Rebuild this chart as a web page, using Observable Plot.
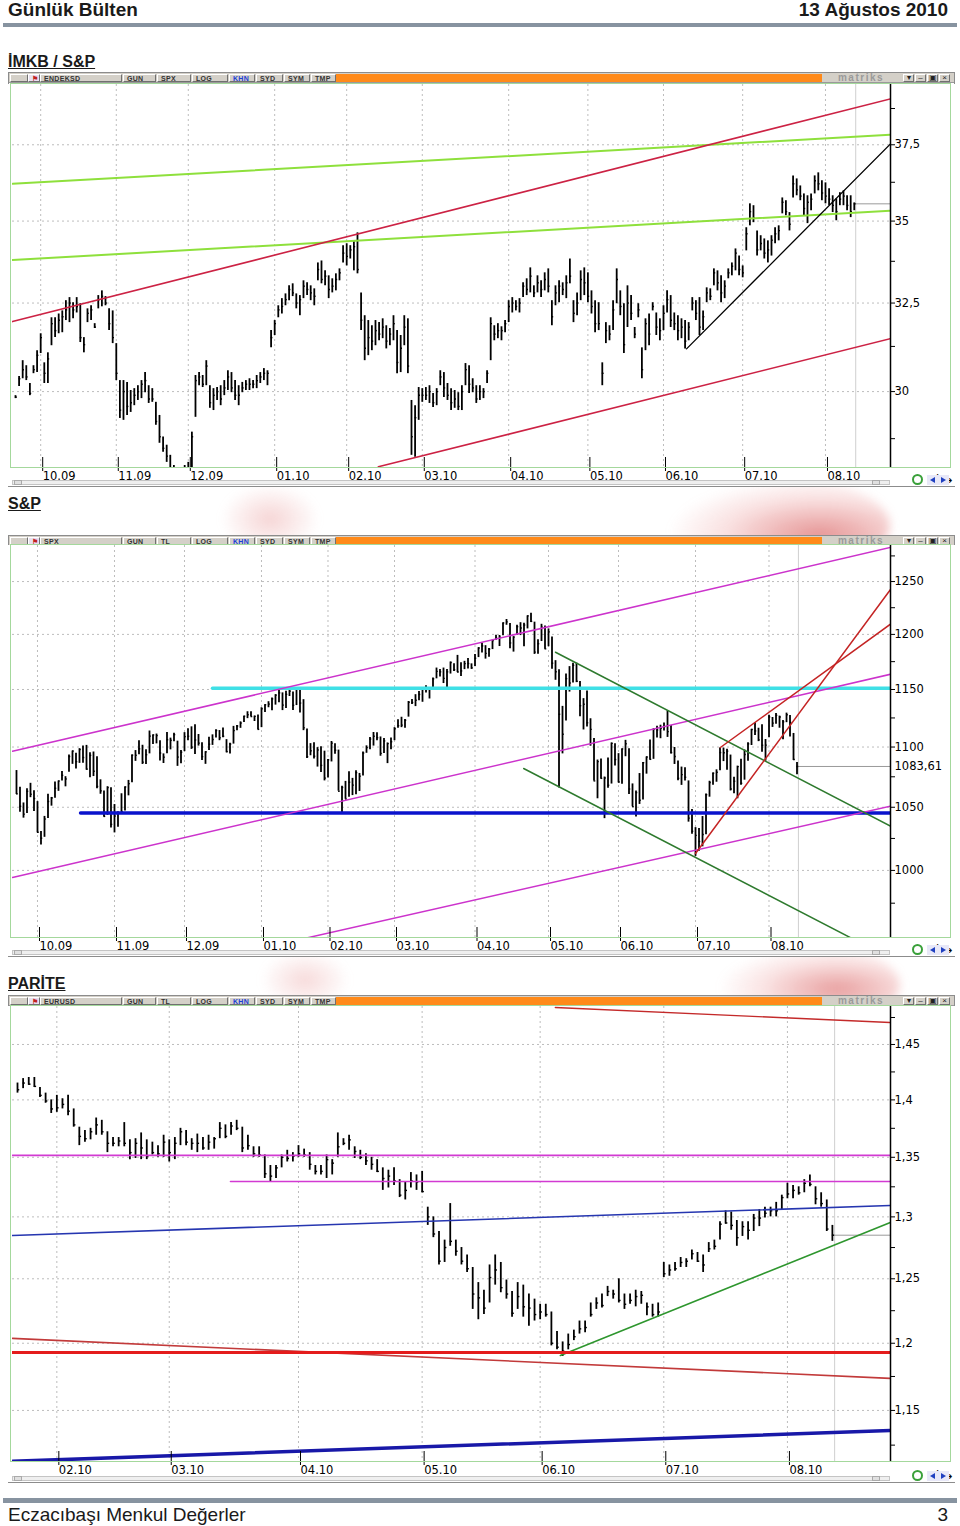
<!DOCTYPE html>
<html><head><meta charset="utf-8">
<script src="https://cdn.jsdelivr.net/npm/d3@7"></script>
<script src="https://cdn.jsdelivr.net/npm/@observablehq/plot@0.6"></script>
<style>
body{margin:0;background:#fff;font-family:"Liberation Sans",Arial,sans-serif;}
#page{position:relative;width:960px;height:1526px;overflow:hidden;background:#fff;}
.a{position:absolute;box-sizing:border-box;}
</style></head>
<body><div id="page"></div>
<script>
// ---------------- DATA ----------------
// Chart 1: IMKB / S&P ratio (daily bars, Sep 2009 - Aug 2010)
const monthLabels1 = ["10.09","11.09","12.09","01.10","02.10","03.10","04.10","05.10","06.10","07.10","08.10"];
const monthIdx1 = [7,28,48,72,92,113,137,159,180,202,225];
const hi1 = [29.89,30.41,30.85,30.71,30.22,30.71,31.13,31.61,30.79,31.07,
32.07,32.07,32.18,32.27,32.57,32.66,32.51,32.66,32.48,31.50,
32.33,32.42,31.90,32.72,32.86,32.69,32.33,32.27,31.33,30.30,
30.30,30.25,30.03,30.08,30.16,30.30,30.52,30.16,30.08,29.71,
29.36,28.79,28.58,28.32,28.06,27.94,27.94,28.06,28.14,28.92,
30.44,30.52,30.44,30.85,30.16,30.08,30.11,30.16,30.30,30.57,
30.52,30.30,30.16,30.25,30.30,30.35,30.30,30.44,30.52,30.63,
30.57,31.70,31.99,32.42,32.63,32.77,33.01,33.07,32.77,32.72,
33.16,33.10,33.01,32.92,33.70,33.76,33.46,33.31,33.22,33.37,
33.52,34.23,34.29,34.23,34.38,34.63,32.80,32.13,31.99,31.84,
31.99,31.93,32.04,31.84,31.76,32.13,31.70,31.56,32.13,32.04,
29.76,29.62,30.11,30.08,30.11,30.16,29.95,30.08,30.57,30.52,
30.22,30.08,30.03,29.97,30.16,30.77,30.71,30.35,30.16,30.16,
30.08,30.57,32.07,31.84,31.90,31.81,31.99,32.57,32.66,32.57,
32.63,33.10,33.22,33.55,33.01,33.31,33.16,33.40,33.52,32.57,
33.01,33.16,33.10,33.31,33.82,32.57,32.80,33.46,33.55,33.40,
32.86,32.57,32.51,30.79,31.93,31.84,32.57,33.52,32.86,32.48,
33.01,32.72,31.79,32.48,31.21,32.04,32.18,32.51,32.21,32.04,
32.42,32.86,32.72,32.21,32.13,32.04,31.99,31.93,32.66,32.57,
32.66,32.27,32.95,32.92,33.52,33.46,33.31,33.16,33.52,33.70,
34.13,33.91,33.61,34.79,35.55,35.49,34.69,34.54,34.44,34.38,
34.54,34.79,34.85,35.74,35.65,35.27,36.46,36.36,36.13,35.87,
35.81,35.87,36.46,36.56,36.30,36.23,36.04,35.81,35.71,35.91,
35.97,35.81,35.81,35.58];
const lo1 = [29.81,30.14,30.35,30.30,29.89,30.49,30.52,31.05,30.22,30.22,
31.27,31.50,31.61,31.64,31.99,31.93,32.04,32.21,31.36,31.07,
31.93,31.99,31.76,32.33,32.39,32.42,31.70,31.33,30.30,29.28,
29.23,29.36,29.44,29.62,29.76,29.81,29.97,29.68,29.71,29.10,
28.63,28.40,28.14,27.94,27.56,27.44,27.56,27.69,27.74,27.94,
29.31,30.16,30.11,30.16,29.55,29.49,29.76,29.62,29.89,30.03,
29.97,29.76,29.62,29.97,30.03,30.03,30.08,30.08,30.22,30.30,
30.16,31.21,31.56,32.07,32.18,32.42,32.57,32.69,32.33,32.13,
32.63,32.72,32.57,32.42,33.16,33.07,33.01,32.63,32.80,32.86,
33.16,33.70,33.61,33.82,33.46,33.37,31.70,30.85,30.99,31.13,
31.27,31.41,31.47,31.18,31.27,31.41,30.49,30.52,31.27,30.49,
28.32,28.27,29.23,29.71,29.76,29.68,29.57,29.62,30.16,29.84,
29.76,29.49,29.55,29.49,29.49,30.16,29.95,29.97,29.68,29.76,
29.81,30.22,30.85,31.41,31.47,31.41,31.64,31.93,32.21,32.27,
32.21,32.66,32.72,32.80,32.66,32.80,32.66,32.86,32.80,31.84,
32.42,32.51,32.72,32.63,33.07,31.93,32.13,32.57,32.72,32.51,
32.18,31.64,31.70,30.16,31.33,31.41,31.70,32.48,32.13,31.05,
31.79,31.99,31.47,32.07,30.35,31.13,31.27,32.27,31.56,31.41,
31.70,32.21,31.79,31.70,31.41,31.47,31.18,31.41,32.27,31.99,
31.56,31.70,32.51,32.57,33.01,32.86,32.51,32.63,33.22,33.31,
33.46,33.31,33.25,34.07,34.85,34.95,33.91,34.07,33.82,33.70,
33.91,34.29,34.38,35.23,35.17,34.69,35.74,35.81,35.65,35.17,
34.92,35.33,35.87,35.97,35.65,35.55,35.49,35.27,35.01,35.49,
35.49,35.33,35.11,35.33];
const cl1 = [29.85,30.35,30.6,30.4,29.95,30.6,31.0,31.5,30.5,30.9,
31.9,31.7,32.0,32.1,32.3,32.5,32.3,32.4,31.5,31.3,
32.2,32.3,31.8,32.6,32.7,32.5,31.9,31.5,30.5,29.5,
30.0,29.6,29.7,29.9,30.0,30.2,30.3,29.8,29.8,29.2,
28.8,28.5,28.3,28.0,27.7,27.6,27.8,27.9,28.0,28.8,
30.3,30.4,30.2,30.7,29.7,29.9,30.0,29.8,30.1,30.4,
30.1,29.9,29.9,30.1,30.2,30.2,30.2,30.3,30.4,30.5,
30.5,31.5,31.9,32.3,32.4,32.6,32.9,32.8,32.5,32.6,
33.0,32.9,32.8,32.7,33.5,33.2,33.3,32.9,33.0,33.2,
33.4,34.0,33.9,34.1,34.2,33.5,32.0,31.2,31.5,31.4,
31.7,31.6,31.8,31.4,31.6,31.9,30.8,31.2,31.8,30.7,
28.8,29.3,29.9,29.9,29.9,30.0,29.7,30.0,30.4,30.1,
29.9,29.7,29.8,29.6,30.0,30.6,30.2,30.1,29.8,30.0,
30.0,30.5,31.9,31.6,31.7,31.7,31.9,32.4,32.5,32.4,
32.5,33.0,32.9,33.3,32.8,33.1,32.9,33.2,33.0,32.1,
32.8,33.0,32.9,33.1,33.3,32.2,32.5,33.2,33.1,32.7,
32.4,31.9,31.9,30.5,31.7,31.6,32.3,33.2,32.4,31.3,
32.5,32.2,31.6,32.3,30.6,31.9,31.6,32.4,31.8,31.7,
32.2,32.6,32.0,31.9,31.7,31.8,31.4,31.8,32.5,32.2,
31.8,32.1,32.8,32.7,33.4,33.1,32.8,33.0,33.4,33.6,
34.0,33.5,33.4,34.6,35.3,35.1,34.1,34.3,34.0,34.1,
34.4,34.6,34.7,35.6,35.3,34.9,36.2,36.0,35.8,35.4,
35.6,35.7,36.3,36.2,35.9,35.8,35.7,35.5,35.3,35.7,
35.8,35.5,35.3,35.55];
const yTicks1 = [30, 32.5, 35, 37.5];
const yTickLabels1 = ["30","32,5","35","37,5"];
const yMinor1 = [28.75, 31.25, 33.75, 36.25, 38.75];
// trend lines: [bar index, value] end points
const t1RedUpper = [[-0.83, 31.96], [243.06, 39.09]];
const t1RedLower = [[100.8, 28.03], [243.06, 31.47]];
const t1GreenUpper = [[-0.83, 36.20], [243.06, 37.84]];
const t1GreenLower = [[-0.83, 33.79], [243.06, 35.33]];
const t1Black = [[186.4, 31.18], [243.06, 37.53]];

// Chart 2: S&P 500 (daily bars, 23 Sep 2009 - 12 Aug 2010)
const monthLabels2 = ["10.09","11.09","12.09","01.10","02.10","03.10","04.10","05.10","06.10","07.10","08.10"];
const monthIdx2 = [6,28,48,70,89,108,131,152,172,194,215];
const cl2 = [1060.9,1050.8,1044.4,1063.0,1060.6,1057.1,1029.9,1025.2,1040.5,1054.7,
1057.6,1065.5,1071.5,1076.2,1073.2,1092.0,1096.6,1087.7,1097.9,1091.1,
1081.4,1092.9,1079.6,1067.0,1063.4,1042.6,1066.1,1036.2,1042.9,1045.4,
1046.5,1066.6,1069.3,1093.1,1093.0,1098.5,1087.2,1093.5,1109.3,1110.3,
1109.8,1094.9,1091.4,1106.2,1105.7,1110.6,1091.5,1095.6,1108.9,1109.2,
1099.9,1106.0,1103.3,1091.9,1095.9,1102.4,1106.4,1114.1,1107.9,1109.2,
1096.1,1102.5,1114.1,1118.0,1120.6,1126.5,1127.8,1126.2,1126.4,1115.1,
1133.0,1136.5,1137.1,1141.7,1145.0,1147.0,1136.2,1145.7,1148.5,1136.0,
1150.2,1138.0,1116.5,1091.8,1096.8,1092.2,1097.5,1084.5,1073.9,1089.2,
1103.3,1097.3,1063.1,1066.2,1056.7,1070.5,1068.1,1078.5,1075.5,1094.9,
1099.5,1106.8,1109.2,1108.0,1094.6,1105.2,1102.9,1104.5,1115.7,1118.3,
1118.8,1123.0,1138.7,1138.5,1140.5,1145.6,1150.2,1150.0,1150.5,1159.5,
1166.2,1165.8,1159.9,1165.8,1174.2,1167.7,1165.7,1166.6,1173.2,1173.3,
1169.4,1178.1,1187.4,1189.4,1182.5,1186.4,1194.4,1196.5,1197.3,1210.7,
1211.7,1192.1,1197.5,1207.2,1205.9,1208.7,1217.3,1212.1,1183.7,1191.4,
1206.8,1186.7,1202.3,1173.6,1165.9,1128.2,1110.9,1159.7,1155.8,1171.7,
1157.4,1135.7,1136.9,1120.8,1115.1,1071.6,1087.7,1073.7,1074.0,1068.0,
1103.1,1089.4,1070.7,1098.4,1102.8,1064.9,1050.5,1062.0,1055.7,1086.8,
1091.6,1089.6,1115.2,1114.6,1116.0,1117.5,1113.2,1095.3,1092.0,1073.7,
1076.8,1074.6,1041.2,1030.7,1027.4,1022.6,1028.1,1060.3,1070.3,1078.0,
1078.8,1095.3,1095.2,1096.5,1064.9,1071.3,1083.5,1069.6,1093.7,1102.7,
1115.0,1113.8,1106.1,1101.5,1101.6,1125.9,1120.5,1127.2,1125.8,1121.6,
1127.8,1121.1,1089.5,1083.61];
const hi2 = [1080.2,1066.3,1053.5,1065.1,1069.6,1063.4,1054.6,1030.6,1042.6,1060.6,
1058.0,1070.7,1071.5,1079.5,1075.1,1093.2,1096.6,1094.7,1098.6,1100.8,
1101.4,1095.2,1095.8,1091.8,1072.5,1063.3,1066.8,1066.0,1052.2,1046.4,
1061.0,1066.6,1072.0,1093.2,1097.0,1105.4,1101.5,1097.7,1113.7,1110.3,
1111.1,1105.4,1094.2,1112.4,1107.6,1111.8,1105.0,1097.1,1112.3,1115.6,
1117.3,1119.1,1110.7,1103.6,1096.0,1108.4,1110.4,1114.8,1114.1,1116.2,
1106.3,1103.3,1117.7,1118.5,1121.6,1126.5,1130.4,1130.4,1126.6,1127.6,
1133.9,1136.6,1139.2,1142.5,1145.4,1149.7,1147.0,1148.4,1150.4,1147.8,
1150.5,1150.4,1141.0,1115.5,1102.9,1103.7,1099.5,1100.2,1096.5,1089.4,
1104.7,1102.7,1097.4,1067.1,1071.2,1079.3,1073.7,1080.0,1077.8,1095.7,
1101.0,1108.2,1112.4,1112.3,1108.6,1107.3,1103.5,1107.8,1116.6,1123.5,
1125.6,1123.7,1139.4,1141.1,1145.4,1148.3,1150.2,1153.4,1150.5,1160.3,
1169.2,1167.8,1169.2,1167.8,1174.7,1173.0,1180.7,1173.9,1175.3,1177.8,
1173.0,1181.4,1187.7,1191.8,1189.6,1187.0,1194.7,1199.2,1199.0,1210.7,
1213.9,1210.2,1197.9,1208.6,1210.9,1210.4,1217.3,1219.8,1211.4,1195.1,
1209.4,1207.9,1205.1,1197.5,1175.9,1167.6,1135.1,1163.8,1170.5,1173.6,
1173.6,1157.2,1141.9,1148.7,1124.3,1107.3,1089.0,1089.9,1074.8,1090.8,
1103.5,1102.9,1094.4,1098.4,1105.7,1098.6,1069.1,1063.2,1077.7,1087.0,
1091.6,1105.9,1115.6,1117.7,1118.7,1120.7,1131.2,1118.5,1099.6,1088.2,
1083.1,1082.6,1071.6,1048.1,1033.6,1032.9,1042.5,1060.9,1071.3,1078.2,
1080.8,1099.1,1099.1,1098.1,1093.2,1074.7,1083.9,1089.7,1097.5,1103.7,
1115.1,1120.9,1116.1,1119.1,1106.4,1127.3,1125.4,1128.8,1126.6,1122.8,
1129.2,1127.2,1111.6,1086.9];
const lo2 = [1060.4,1045.9,1041.2,1044.9,1057.8,1046.5,1029.4,1019.9,1025.9,1040.9,
1050.9,1057.4,1063.0,1071.6,1066.7,1078.7,1085.4,1081.5,1086.2,1086.3,
1080.5,1074.3,1075.2,1065.2,1060.6,1042.2,1043.4,1033.4,1029.4,1033.9,
1045.2,1047.0,1059.3,1070.0,1087.9,1093.5,1085.3,1085.3,1094.2,1102.2,
1102.7,1088.3,1086.1,1094.4,1097.6,1104.6,1083.7,1085.9,1096.1,1105.4,
1098.0,1093.6,1100.8,1088.6,1085.4,1097.0,1101.4,1107.8,1105.4,1107.9,
1095.1,1094.1,1102.5,1114.0,1116.0,1121.1,1124.4,1126.1,1121.9,1114.8,
1116.6,1129.7,1133.9,1131.3,1136.2,1138.3,1131.4,1133.2,1143.8,1131.4,
1135.8,1129.3,1114.0,1090.2,1092.6,1089.9,1083.1,1078.5,1071.6,1073.9,
1087.4,1093.9,1063.1,1044.5,1056.5,1058.1,1059.5,1060.1,1062.9,1075.7,
1094.7,1097.7,1100.8,1105.4,1092.2,1094.6,1086.0,1097.6,1105.4,1116.0,
1116.6,1116.1,1125.7,1136.8,1134.9,1140.1,1138.7,1146.9,1141.6,1150.3,
1159.5,1161.2,1155.3,1150.7,1163.8,1166.0,1165.1,1161.5,1167.8,1168.3,
1168.0,1170.7,1178.7,1182.8,1177.3,1179.0,1186.0,1194.7,1188.8,1198.7,
1208.5,1186.8,1183.7,1199.0,1198.9,1188.6,1205.1,1211.1,1181.6,1181.8,
1193.4,1186.3,1188.6,1168.1,1158.2,1065.8,1094.2,1122.3,1147.7,1155.8,
1156.1,1126.1,1114.6,1117.2,1100.7,1071.6,1056.9,1073.1,1040.8,1065.6,
1069.0,1084.1,1069.9,1068.9,1091.8,1060.5,1050.4,1042.2,1052.3,1056.0,
1077.2,1089.0,1089.6,1107.7,1107.1,1113.8,1108.2,1094.2,1085.3,1071.7,
1067.9,1071.5,1038.0,1028.3,1010.9,1015.0,1018.4,1028.0,1058.2,1068.1,
1070.5,1080.0,1087.7,1080.5,1063.3,1061.1,1056.9,1068.0,1072.2,1087.9,
1101.3,1109.8,1104.6,1095.6,1088.0,1108.0,1116.8,1119.5,1116.1,1106.3,
1120.9,1108.5,1088.6,1076.7];
const yTicks2 = [1000,1050,1100,1150,1200,1250];
const yTickLabels2 = ["1000","1050","1100","1150","1200","1250"];
const yMinor2 = [975,1025,1075,1125,1175,1225,1275];
const lastLabel2 = "1083,61";
const t2MagUpper = [[-1.14, 1096.5], [249.71, 1283.5]];
const t2MagMid = [[-1.14, 994.6], [249.71, 1163.6]];
const t2MagLower = [[-1.14, 901.7], [249.71, 1050.9]];
const t2Cyan = [[56, 1151], [249.71, 1151]];
const t2Blue = [[18.3, 1045.3], [249.71, 1045.3]];
const t2GreenUpper = [[154, 1183.6], [249.71, 1034.8]];
const t2GreenLower = [[144.9, 1081.9], [249.71, 934.3]];
const t2RedSteep = [[194, 1013.2], [249.71, 1242.4]];
const t2RedShallow = [[201.1, 1099.6], [249.71, 1209.5]];

// Chart 3: EUR/USD (daily bars, 21 Jan - 12 Aug 2010)
const monthLabels3 = ["02.10","03.10","04.10","05.10","06.10","07.10","08.10"];
const monthIdx3 = [7,27,50,72,93,115,137];
const hi3 = [1.415,1.419,1.420,1.420,1.411,1.406,1.400,1.404,1.401,1.404,
1.392,1.376,1.373,1.375,1.384,1.382,1.372,1.367,1.367,1.380,
1.365,1.366,1.371,1.365,1.363,1.360,1.369,1.365,1.367,1.375,
1.373,1.366,1.370,1.367,1.369,1.367,1.380,1.378,1.380,1.382,
1.376,1.369,1.359,1.359,1.352,1.343,1.343,1.352,1.356,1.354,
1.360,1.357,1.354,1.343,1.343,1.352,1.348,1.371,1.366,1.369,
1.359,1.356,1.353,1.350,1.348,1.341,1.339,1.341,1.331,1.329,
1.337,1.335,1.338,1.308,1.300,1.288,1.281,1.311,1.281,1.275,
1.269,1.259,1.247,1.241,1.261,1.269,1.263,1.249,1.240,1.247,
1.245,1.238,1.234,1.230,1.230,1.224,1.209,1.201,1.207,1.210,
1.217,1.217,1.231,1.235,1.238,1.244,1.241,1.250,1.238,1.238,
1.241,1.240,1.231,1.230,1.231,1.263,1.261,1.263,1.267,1.266,
1.273,1.271,1.269,1.279,1.281,1.296,1.305,1.304,1.297,1.296,
1.296,1.302,1.306,1.308,1.308,1.312,1.318,1.328,1.326,1.325,
1.331,1.335,1.325,1.320,1.314,1.293];
const lo3 = [1.406,1.410,1.413,1.411,1.402,1.397,1.388,1.389,1.392,1.386,
1.376,1.360,1.363,1.365,1.369,1.369,1.354,1.359,1.359,1.359,
1.348,1.349,1.348,1.348,1.352,1.350,1.350,1.346,1.348,1.360,
1.360,1.356,1.354,1.356,1.356,1.357,1.366,1.366,1.369,1.373,
1.354,1.356,1.350,1.350,1.332,1.329,1.332,1.341,1.346,1.346,
1.350,1.350,1.339,1.335,1.335,1.332,1.335,1.350,1.360,1.356,
1.349,1.348,1.343,1.339,1.337,1.322,1.324,1.326,1.316,1.314,
1.324,1.322,1.320,1.293,1.283,1.261,1.263,1.276,1.268,1.261,
1.255,1.226,1.218,1.222,1.231,1.245,1.239,1.234,1.220,1.226,
1.220,1.213,1.217,1.218,1.220,1.198,1.195,1.190,1.195,1.202,
1.207,1.208,1.220,1.226,1.227,1.236,1.234,1.231,1.226,1.230,
1.228,1.230,1.221,1.220,1.220,1.251,1.252,1.256,1.259,1.259,
1.265,1.263,1.255,1.271,1.273,1.281,1.294,1.289,1.276,1.284,
1.281,1.288,1.292,1.299,1.300,1.300,1.306,1.315,1.315,1.318,
1.320,1.325,1.310,1.308,1.288,1.280];
const cl3 = [1.409,1.415,1.414,1.412,1.404,1.399,1.392,1.393,1.396,1.390,
1.378,1.368,1.366,1.372,1.378,1.372,1.362,1.362,1.364,1.362,
1.354,1.362,1.358,1.351,1.354,1.353,1.363,1.354,1.362,1.372,
1.363,1.362,1.362,1.358,1.363,1.366,1.375,1.368,1.377,1.375,
1.358,1.360,1.353,1.352,1.336,1.334,1.341,1.350,1.349,1.351,
1.353,1.352,1.344,1.338,1.338,1.348,1.345,1.359,1.362,1.365,
1.355,1.350,1.347,1.344,1.338,1.332,1.334,1.330,1.318,1.322,
1.330,1.329,1.321,1.300,1.286,1.264,1.275,1.280,1.272,1.264,
1.258,1.238,1.235,1.227,1.251,1.257,1.243,1.238,1.223,1.236,
1.228,1.227,1.222,1.224,1.222,1.200,1.197,1.194,1.199,1.205,
1.211,1.212,1.222,1.231,1.229,1.240,1.238,1.233,1.230,1.233,
1.236,1.237,1.228,1.222,1.224,1.254,1.257,1.258,1.263,1.264,
1.270,1.264,1.261,1.274,1.276,1.294,1.295,1.293,1.283,1.292,
1.289,1.299,1.299,1.303,1.305,1.305,1.316,1.319,1.322,1.320,
1.328,1.327,1.315,1.311,1.290,1.285];
const yTicks3 = [1.15,1.2,1.25,1.3,1.35,1.4,1.45];
const yTickLabels3 = ["1,15","1,2","1,25","1,3","1,35","1,4","1,45"];
const yMinor3 = [1.125,1.175,1.225,1.275,1.325,1.375,1.425,1.475];
const t3RedTop = [[95.7, 1.4843], [155.34, 1.4703]];
const t3Mag1 = [[-0.89, 1.3516], [155.34, 1.3516]];
const t3Mag2 = [[37.9, 1.3295], [155.34, 1.3295]];
const t3BlueThin = [[-0.89, 1.2848], [155.34, 1.3094]];
const t3Green = [[96.6, 1.1908], [155.34, 1.2954]];
const t3RedThick = [[-0.89, 1.1930], [155.34, 1.1930]];
const t3RedThin = [[-0.89, 1.2037], [155.34, 1.1736]];
const t3BlueThick = [[-0.89, 1.1135], [155.34, 1.1355]];

// ---------------- LAYOUT ----------------
const page = document.getElementById("page");
function box(style, text) {
  const d = document.createElement("div");
  d.className = "a";
  Object.assign(d.style, style);
  if (text != null) d.textContent = text;
  page.appendChild(d);
  return d;
}
const px = v => v + "px";
const AXIS_FONT = "'DejaVu Sans', Verdana, sans-serif";

// faint watermark swoosh behind charts
box({left:"220px", top:"484px", width:"100px", height:"70px", borderRadius:"50%",
  background:"radial-gradient(ellipse at center, rgba(232,150,150,0.4), rgba(255,255,255,0) 70%)", filter:"blur(4px)"});
box({left:"670px", top:"478px", width:"220px", height:"95px", borderRadius:"50%",
  background:"radial-gradient(ellipse at 68% 60%, rgba(205,45,45,0.5), rgba(230,120,120,0.22) 45%, rgba(255,255,255,0) 72%)", filter:"blur(5px)"});
box({left:"260px", top:"950px", width:"90px", height:"60px", borderRadius:"50%",
  background:"radial-gradient(ellipse at center, rgba(232,150,150,0.35), rgba(255,255,255,0) 70%)", filter:"blur(4px)"});
box({left:"720px", top:"945px", width:"180px", height:"80px", borderRadius:"50%",
  background:"radial-gradient(ellipse at 65% 55%, rgba(205,45,45,0.45), rgba(230,120,120,0.2) 45%, rgba(255,255,255,0) 72%)", filter:"blur(5px)"});

// header & footer
box({left:"8px", top:"0px", fontWeight:"bold", fontSize:"19px", lineHeight:"20px", color:"#1a1a1a"}, "Günlük Bülten");
box({right:"12px", top:"0px", fontWeight:"bold", fontSize:"19px", lineHeight:"20px", color:"#1a1a1a"}, "13 Ağustos 2010");
box({left:"3px", top:"23px", width:"954px", height:"4px", background:"#8793a0"});
box({left:"3px", top:"1498px", width:"954px", height:"5px", background:"#8793a0"});
box({left:"8px", top:"1504px", fontSize:"19px", lineHeight:"22px", color:"#1a1a1a"}, "Eczacıbaşı Menkul Değerler");
box({right:"12px", top:"1504px", fontSize:"19px", lineHeight:"22px", color:"#1a1a1a"}, "3");

const panels = [
  {top:72, h:415, svgTop:84, plotH:383, svgH:402, labelTop:53, label:"İMKB / S&P", btn:["ENDEKSD","GUN","SPX"]},
  {top:535, h:422, svgTop:545, plotH:392, svgH:411, labelTop:495, label:"S&P", btn:["SPX","GUN","TL"]},
  {top:995, h:488, svgTop:1006, plotH:455, svgH:476, labelTop:975, label:"PARİTE", btn:["EURUSD","GUN","TL"]}
];

function toolbar(top, btn) {
  box({left:"9px", top:px(top), width:"945px", height:"10px", background:"#d4d0c8", borderBottom:"1px solid #9a9a9a"});
  const segs = [[10,18,""],[28,12,"\u2691"],[40,82,btn[0]],[123,33,btn[1]],[157,34,btn[2]],[192,36,"LOG"],[229,26,"KHN"],[256,27,"SYD"],[284,26,"SYM"],[311,25,"TMP"]];
  for (const [x,w,t] of segs) {
    box({left:px(x), top:px(top+1), width:px(w), height:"8px", border:"1px solid", borderColor:"#fff #707070 #707070 #fff",
      fontSize:"7px", fontWeight:"bold", lineHeight:"7px", paddingLeft:"3px", color: t==="KHN" ? "#1c3fd6" : (t==="\u2691" ? "#c02020" : "#333"),
      letterSpacing:"0.3px", whiteSpace:"nowrap", overflow:"hidden", background: t==="\u2691" ? "#e8e0f0" : "#d4d0c8"}, t);
  }
  box({left:"336px", top:px(top+1), width:"486px", height:"8px", background:"#ff8a1a"});
  box({left:"822px", top:px(top), width:"78px", height:"10px", fontSize:"10px", lineHeight:"9px", color:"#9a9a9a",
    textAlign:"center", letterSpacing:"1.5px", fontWeight:"bold"}, "matriks");
  const ctr = ["\u25be","\u2013","\u25a3","\u00d7"];
  ctr.forEach((t,k) => box({left:px(903 + k*12), top:px(top+1), width:"11px", height:"8px", border:"1px solid", borderColor:"#fff #707070 #707070 #fff",
    fontSize:"8px", lineHeight:"6px", textAlign:"center", color:"#222", background:"#d4d0c8", overflow:"hidden"}, t));
}

function bottomBar(p) {
  const y = p.top + p.h - 7;
  box({left:"12px", top:px(y), width:"878px", height:"5px", background:"#efefef", border:"1px solid #c4c4c4"});
  box({left:"14px", top:px(y), width:"8px", height:"5px", background:"#e0e0e0", border:"1px solid #aaa"});
  box({left:"872px", top:px(y), width:"8px", height:"5px", background:"#e0e0e0", border:"1px solid #aaa"});
  box({left:"912px", top:px(y-6), width:"11px", height:"11px", borderRadius:"50%", border:"2px solid #3aa03a", background:"#fff"});
  box({left:"927px", top:px(y-5), width:"22px", height:"10px", background:"#e8e8f8"});
  // left / right arrow icons drawn as CSS triangles
  box({left:"930px", top:px(y-3), width:"0px", height:"0px", borderTop:"3px solid transparent", borderBottom:"3px solid transparent", borderRight:"5px solid #2040c0"});
  box({left:"941px", top:px(y-3), width:"0px", height:"0px", borderTop:"3px solid transparent", borderBottom:"3px solid transparent", borderLeft:"5px solid #2040c0"});
}

function chart(cfg) {
  const n = Math.min(cfg.hi.length, cfg.lo.length, cfg.cl.length);
  const bars = d3.range(n).map(i => ({i, hi: cfg.hi[i], lo: cfg.lo[i], cl: cfg.cl[i]}));
  const last = bars[n - 1];
  const xMax = cfg.xDomain[1];
  const grid = {stroke: "#bdbdbd", strokeOpacity: 1, strokeDasharray: "2,3", strokeWidth: 1};
  const marks = [
    Plot.gridY(cfg.yTicks, grid),
    Plot.gridX(cfg.months, grid),
    Plot.ruleX([last.i + 0.4], {stroke: "#cfcfcf"}),
    Plot.ruleY([last.cl], {x1: last.i, x2: xMax, stroke: "#9a9a9a", strokeWidth: 1}),
    Plot.ruleX(bars, {x: "i", y1: "lo", y2: "hi", stroke: "#000", strokeWidth: 1.8, clip: true}),
    Plot.ruleY(bars, {y: "cl", x1: "i", x2: d => d.i + cfg.tickW, stroke: "#000", strokeWidth: 1.4, clip: true})
  ];
  for (const t of cfg.trends) {
    marks.push(Plot.line(t.pts, {x: d => d[0], y: d => d[1], stroke: t.color, strokeWidth: t.w, clip: true}));
  }
  marks.push(
    Plot.ruleX([xMax], {stroke: "#000", strokeWidth: 1.5}),
    Plot.axisY(cfg.yTicks, {anchor: "right", tickSize: 4, tickPadding: 0, textAnchor: "start",
      tickFormat: d => cfg.yLabels[cfg.yTicks.indexOf(d)], fontSize: 11.5, fontFamily: AXIS_FONT}),
    Plot.axisY(cfg.yMinor, {anchor: "right", tickSize: 4, tickFormat: () => ""}),
    Plot.axisX(cfg.months, {anchor: "bottom", tickSize: 14, tickPadding: 0, textAnchor: "start", dx: 2, dy: -10,
      tickFormat: d => cfg.mLabels[cfg.months.indexOf(d)], fontSize: 11.5, fontFamily: AXIS_FONT})
  );
  if (cfg.lastLabel) {
    marks.push(Plot.text([last], {x: xMax, y: "cl", text: () => cfg.lastLabel, textAnchor: "start", dx: 4,
      fontSize: 11.5, fontFamily: AXIS_FONT, fill: "#000"}));
  }
  return Plot.plot({
    width: 947, height: cfg.svgH,
    marginLeft: 4, marginRight: 65, marginTop: 0, marginBottom: cfg.svgH - cfg.plotH,
    x: {domain: cfg.xDomain},
    y: {type: "log", domain: cfg.yDomain},
    style: {fontFamily: AXIS_FONT, fontSize: "11.5px", background: "#fff", overflow: "visible", color: "#000"},
    marks
  });
}

const cfgs = [
  {hi: hi1, lo: lo1, cl: cl1, xDomain: [-0.83, 243.06], yDomain: [28.01, 39.6], yTicks: yTicks1, yLabels: yTickLabels1, yMinor: yMinor1,
   months: monthIdx1, mLabels: monthLabels1, tickW: 0.5,
   trends: [
     {pts: t1GreenUpper, color: "#8ee03c", w: 2},
     {pts: t1GreenLower, color: "#8ee03c", w: 2},
     {pts: t1RedUpper, color: "#cc2244", w: 1.6},
     {pts: t1RedLower, color: "#cc2244", w: 1.6},
     {pts: t1Black, color: "#000", w: 1.3}
   ]},
  {hi: hi2, lo: lo2, cl: cl2, xDomain: [-1.14, 249.71], yDomain: [949.5, 1285.3], yTicks: yTicks2, yLabels: yTickLabels2, yMinor: yMinor2,
   months: monthIdx2, mLabels: monthLabels2, tickW: 0.5, lastLabel: lastLabel2,
   trends: [
     {pts: t2Cyan, color: "#3fe0e6", w: 3.5},
     {pts: t2Blue, color: "#0a12cc", w: 3.5},
     {pts: t2MagUpper, color: "#cc33cc", w: 1.5},
     {pts: t2MagMid, color: "#cc33cc", w: 1.5},
     {pts: t2MagLower, color: "#cc33cc", w: 1.5},
     {pts: t2GreenUpper, color: "#2e7a2e", w: 1.5},
     {pts: t2GreenLower, color: "#2e7a2e", w: 1.5},
     {pts: t2RedSteep, color: "#c42424", w: 1.5},
     {pts: t2RedShallow, color: "#c42424", w: 1.5}
   ]},
  {hi: hi3, lo: lo3, cl: cl3, xDomain: [-0.89, 155.34], yDomain: [1.1134, 1.4853], yTicks: yTicks3, yLabels: yTickLabels3, yMinor: yMinor3,
   months: monthIdx3, mLabels: monthLabels3, tickW: 0.4,
   trends: [
     {pts: t3RedTop, color: "#c42a2a", w: 1.4},
     {pts: t3Mag1, color: "#d23ad2", w: 1.6},
     {pts: t3Mag2, color: "#d23ad2", w: 1.6},
     {pts: t3BlueThin, color: "#2636b0", w: 1.6},
     {pts: t3Green, color: "#2e962e", w: 1.6},
     {pts: t3RedThin, color: "#c23a3a", w: 1.6},
     {pts: t3RedThick, color: "#e41c1c", w: 3},
     {pts: t3BlueThick, color: "#1818a8", w: 3.5}
   ]}
];

panels.forEach((p, k) => {
  box({left:"8px", top:px(p.labelTop), fontWeight:"bold", fontSize:"16px", lineHeight:"18px", textDecoration:"underline", color:"#1a1a1a"}, p.label);
  box({left:"8px", top:px(p.top), width:"947px", height:px(p.h), border:"1px solid #8c8c8c", background:"#fff"});
  toolbar(p.top + 1, p.btn);
  const holder = box({left:"8px", top:px(p.svgTop), width:"947px", height:px(p.svgH)});
  try {
    const svg = chart(Object.assign({svgH: p.svgH, plotH: p.plotH}, cfgs[k]));
    holder.appendChild(svg);
  } catch (e) {
    holder.textContent = "Error: " + e.message;
  }
  box({left:"10px", top:px(p.svgTop - 1), width:"941px", height:px(p.plotH + 2), border:"1px solid #a4d89c", pointerEvents:"none"});
  bottomBar(p);
});
</script>
</body></html>
